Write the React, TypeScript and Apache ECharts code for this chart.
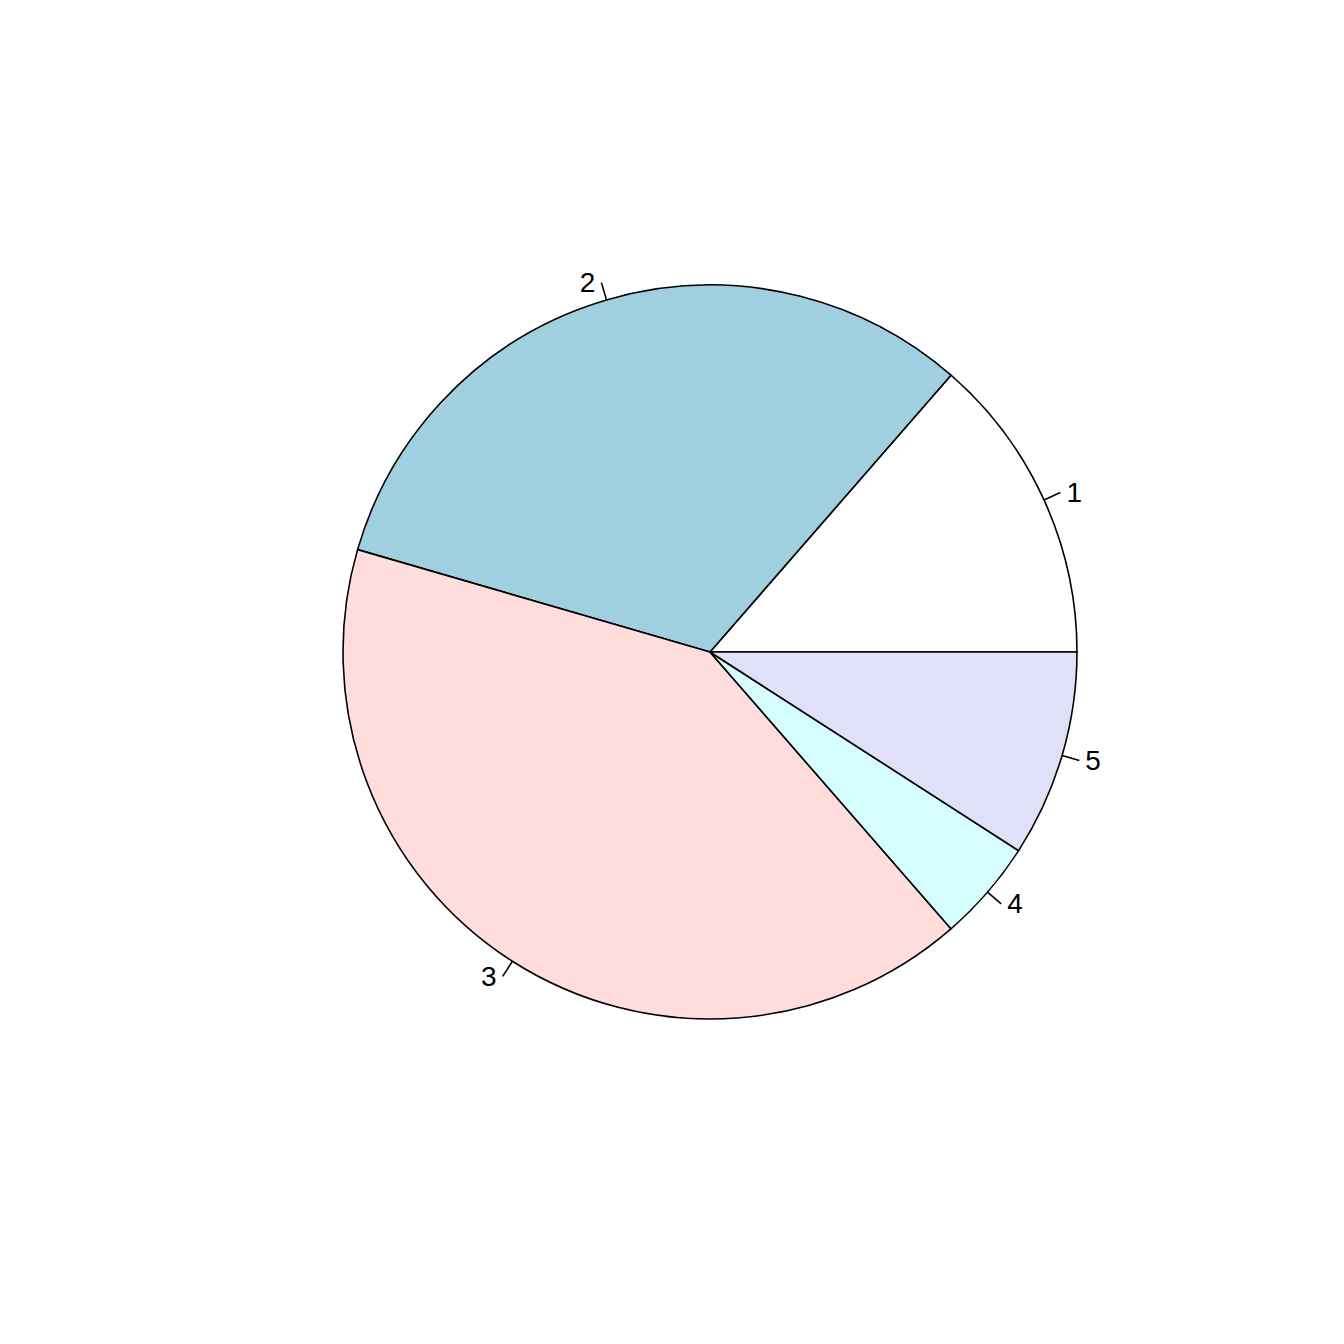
import React, { useEffect, useRef } from "react";
import * as echarts from "echarts";

const categories = ["1", "2", "3", "4", "5"];
const values = [13.6, 31.9, 40.9, 4.5, 9.1];
const colors = ["#FFFFFF", "#A0CFE0", "#FFDDDD", "#D7FEFF", "#E0E0F9"];

export default function App() {
  const ref = useRef<HTMLDivElement>(null);
  useEffect(() => {
    const chart = echarts.init(ref.current!, null, { renderer: "svg" });
    chart.setOption({
      animation: false,
      backgroundColor: "#FFFFFF",
      series: [
        {
          type: "pie",
          center: [710, 652],
          radius: [0, 367],
          startAngle: 0,
          clockwise: false,
          avoidLabelOverlap: false,
          data: categories.map((c, i) => ({
            name: c,
            value: values[i],
            itemStyle: { color: colors[i] },
          })),
          itemStyle: { borderColor: "#000", borderWidth: 1.6 },
          label: {
            show: true,
            position: "outside",
            formatter: "{b}",
            color: "#000",
            fontSize: 28,
            fontFamily: "Liberation Sans, Arial, sans-serif",
            distanceToLabelLine: 6,
          },
          labelLine: {
            show: true,
            length: 18,
            length2: 0,
            lineStyle: { color: "#000", width: 1.6 },
          },
          emphasis: { disabled: true },
        },
      ],
    });
    return () => chart.dispose();
  }, []);
  return (
    <div
      ref={ref}
      style={{ position: "absolute", left: 0, top: 0, width: 1344, height: 1344 }}
    />
  );
}
